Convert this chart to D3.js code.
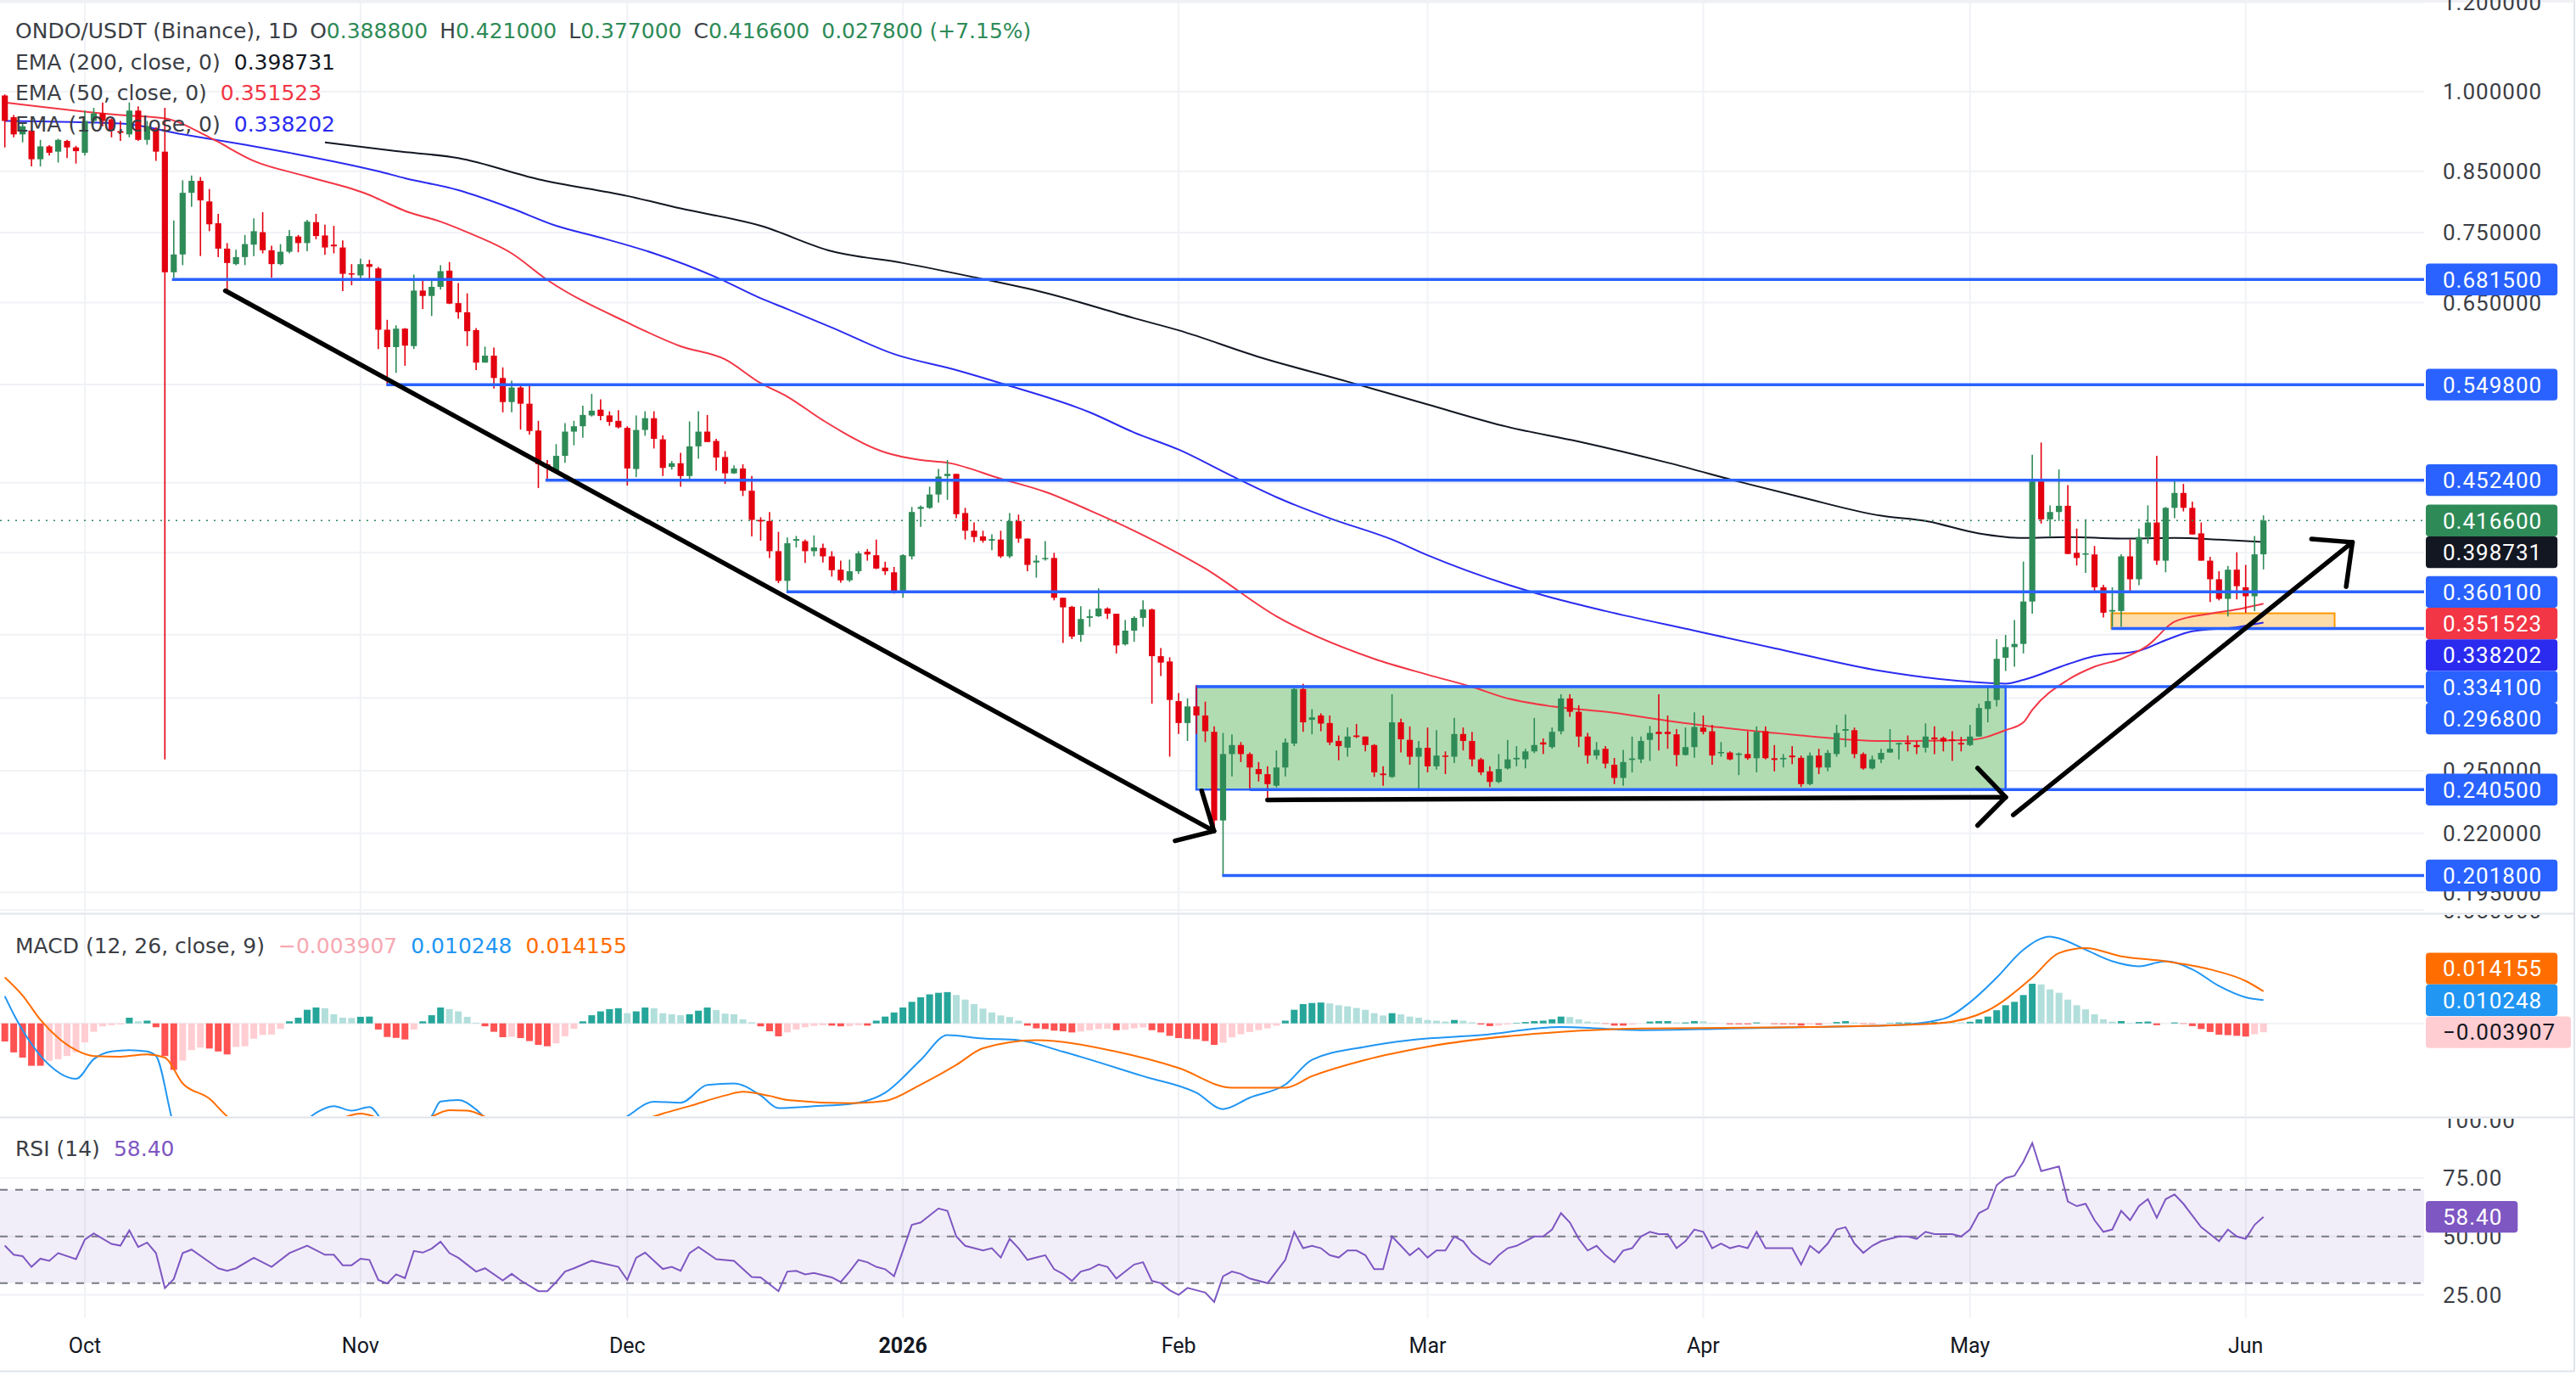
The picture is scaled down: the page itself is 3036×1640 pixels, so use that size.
<!DOCTYPE html>
<html>
<head>
<meta charset="utf-8">
<script src="https://cdn.jsdelivr.net/npm/d3@7"></script>
<style>
body { margin: 0; background: #fff; }
svg text { font-family: Roboto, "Noto Sans", sans-serif; }
svg text.legend { font-family: "DejaVu Sans", Verdana, sans-serif; }
</style>
</head>
<body>
<svg id="chart" width="3036" height="1640"></svg>
<script>
// daily candles, first one is 2025-09-22
const startDate = "2025-09-22";
const opens = [0.9922,0.9492,0.9165,0.9236,0.8711,0.8943,0.8847,0.9043,0.8924,0.8827,0.942,0.9567,0.945,0.9226,0.9165,0.9621,0.9063,0.9267,0.8847,0.6916,0.7172,0.8134,0.8335,0.7992,0.7644,0.7258,0.7032,0.7134,0.7317,0.7505,0.7234,0.7032,0.7212,0.7439,0.7341,0.7661,0.7456,0.7317,0.7275,0.6901,0.6871,0.7032,0.697,0.615,0.5936,0.6164,0.5948,0.6662,0.6589,0.6713,0.6939,0.6494,0.6374,0.6146,0.5751,0.5833,0.5573,0.5306,0.5466,0.5288,0.5006,0.4673,0.4612,0.4754,0.4995,0.505,0.5163,0.5224,0.5163,0.5106,0.5033,0.4628,0.5012,0.5134,0.4917,0.4648,0.4683,0.4562,0.4847,0.4995,0.4901,0.4743,0.4587,0.4633,0.4427,0.4171,0.4162,0.3913,0.3683,0.3998,0.3994,0.3913,0.3939,0.3872,0.3768,0.3687,0.3756,0.3909,0.3881,0.3784,0.3748,0.3596,0.3872,0.4266,0.4275,0.4393,0.4562,0.4582,0.423,0.408,0.4033,0.3998,0.4007,0.3872,0.4162,0.4015,0.3824,0.385,0.3859,0.3558,0.3493,0.3298,0.3415,0.3426,0.3481,0.3444,0.3235,0.3327,0.3415,0.3474,0.3158,0.3124,0.2881,0.2755,0.285,0.2798,0.2706,0.2258,0.2586,0.2634,0.2586,0.2508,0.2482,0.2424,0.2516,0.2642,0.2953,0.2773,0.2798,0.2755,0.2656,0.262,0.2686,0.268,0.2634,0.2485,0.2468,0.2759,0.2662,0.2572,0.2619,0.2522,0.2578,0.2572,0.2694,0.2656,0.2558,0.2496,0.2443,0.2511,0.2558,0.2558,0.26,0.2648,0.2623,0.2709,0.2897,0.2819,0.268,0.2578,0.2614,0.253,0.2463,0.2555,0.2558,0.2662,0.2706,0.2706,0.2692,0.2581,0.2623,0.273,0.2709,0.259,0.2594,0.2581,0.2586,0.2564,0.2709,0.2564,0.2558,0.2578,0.2566,0.2432,0.2578,0.2516,0.2586,0.2712,0.2715,0.2586,0.2511,0.2558,0.2594,0.2637,0.2648,0.2634,0.262,0.2675,0.2672,0.2664,0.2645,0.2634,0.268,0.2835,0.2888,0.3148,0.3217,0.3238,0.3531,0.4512,0.4176,0.4239,0.4293,0.39,0.3885,0.3887,0.3635,0.3459,0.3463,0.3872,0.3695,0.4028,0.4149,0.3838,0.4275,0.4407,0.4275,0.4058,0.3838,0.3695,0.355,0.3768,0.3635,0.3569,0.3888];
const highs = [0.9944,0.9535,0.937,0.9267,0.9063,0.8965,0.9083,0.9063,0.8954,0.9621,0.9675,0.9783,0.947,0.942,0.9783,0.9707,0.942,0.9297,0.9675,0.7688,0.8344,0.8427,0.84,0.8198,0.7792,0.7341,0.7242,0.7464,0.772,0.7818,0.73,0.7325,0.7538,0.7464,0.7697,0.7792,0.762,0.7604,0.7382,0.7032,0.711,0.7095,0.6993,0.6276,0.6205,0.6171,0.6883,0.6824,0.6809,0.7017,0.7063,0.6765,0.6625,0.6171,0.5942,0.593,0.5695,0.5543,0.5484,0.5496,0.5106,0.4714,0.4869,0.5083,0.5106,0.5266,0.5395,0.5336,0.5207,0.5218,0.505,0.5163,0.5207,0.5207,0.4958,0.4704,0.4783,0.51,0.5207,0.5168,0.4922,0.48,0.4663,0.4673,0.4562,0.4194,0.4239,0.4071,0.4024,0.4037,0.4007,0.4041,0.3973,0.3913,0.3838,0.3846,0.3913,0.393,0.4007,0.383,0.3789,0.3889,0.4283,0.4297,0.4464,0.4628,0.4714,0.4582,0.4275,0.4149,0.408,0.405,0.408,0.423,0.4216,0.4015,0.3881,0.3994,0.39,0.3558,0.35,0.3497,0.3474,0.3627,0.3489,0.3444,0.34,0.3426,0.3539,0.3481,0.3211,0.3151,0.2929,0.2897,0.2976,0.2878,0.2736,0.27,0.2692,0.265,0.2594,0.2544,0.2522,0.2605,0.267,0.2976,0.2985,0.2834,0.281,0.2798,0.2686,0.273,0.275,0.268,0.2639,0.2522,0.2922,0.2779,0.2736,0.2656,0.273,0.2715,0.26,0.2784,0.273,0.2706,0.2566,0.2522,0.2586,0.2662,0.2628,0.2614,0.2784,0.267,0.273,0.2922,0.2922,0.2857,0.27,0.265,0.2628,0.2566,0.2608,0.268,0.268,0.2739,0.2922,0.2798,0.2721,0.273,0.2816,0.2798,0.2745,0.265,0.26,0.2594,0.2709,0.2736,0.2736,0.2634,0.2586,0.2628,0.2578,0.2594,0.2614,0.2608,0.2745,0.2804,0.273,0.2594,0.2578,0.2614,0.2721,0.2648,0.2686,0.2656,0.2753,0.2736,0.268,0.2709,0.2678,0.2745,0.2866,0.2976,0.327,0.3298,0.34,0.3831,0.4764,0.4885,0.4297,0.4623,0.4479,0.4098,0.4176,0.3955,0.3654,0.3635,0.3889,0.4007,0.4098,0.4297,0.4754,0.4283,0.4537,0.4489,0.433,0.4149,0.3868,0.3756,0.3797,0.3904,0.3805,0.4037,0.421];
const lows = [0.8924,0.911,0.9017,0.8586,0.8586,0.8779,0.8653,0.8731,0.8634,0.8779,0.937,0.9318,0.911,0.9043,0.911,0.9043,0.8973,0.8682,0.2558,0.6838,0.7017,0.7905,0.7149,0.7521,0.7134,0.6662,0.7017,0.7017,0.7149,0.7188,0.6838,0.7017,0.7188,0.7204,0.7219,0.7398,0.7165,0.7188,0.6654,0.6735,0.6809,0.6809,0.5912,0.5502,0.5632,0.5714,0.5912,0.6416,0.6325,0.6676,0.648,0.6289,0.5948,0.5664,0.5751,0.5454,0.5196,0.5196,0.5016,0.4964,0.4451,0.452,0.4603,0.4688,0.4858,0.4932,0.5151,0.5112,0.5055,0.5028,0.4474,0.4552,0.4953,0.4826,0.4562,0.4622,0.4464,0.4537,0.4725,0.489,0.4612,0.4489,0.4582,0.4379,0.4033,0.3998,0.3859,0.3666,0.3604,0.3943,0.382,0.3872,0.3824,0.3715,0.367,0.3675,0.3736,0.3838,0.3772,0.3728,0.3588,0.3558,0.3847,0.4112,0.4266,0.4321,0.4346,0.4185,0.4007,0.3985,0.3981,0.3921,0.3859,0.3859,0.3981,0.3756,0.3707,0.3838,0.3539,0.3245,0.327,0.3252,0.3353,0.3422,0.3407,0.3176,0.3228,0.3252,0.3353,0.2866,0.3032,0.2572,0.2694,0.2656,0.2694,0.265,0.2218,0.2018,0.2471,0.2544,0.241,0.2445,0.2364,0.2416,0.2471,0.2628,0.2706,0.2692,0.2709,0.2634,0.2553,0.2572,0.2672,0.26,0.2468,0.2424,0.2463,0.2594,0.253,0.241,0.2491,0.2505,0.2482,0.2539,0.2605,0.2522,0.2477,0.2418,0.2437,0.2505,0.2522,0.2511,0.2591,0.2586,0.2614,0.2692,0.279,0.2623,0.2536,0.2558,0.2511,0.2432,0.2424,0.2491,0.2539,0.255,0.2605,0.2614,0.2522,0.2578,0.2566,0.2692,0.253,0.2572,0.2553,0.2477,0.2555,0.2491,0.2558,0.2496,0.2516,0.2533,0.2418,0.2426,0.2482,0.2496,0.2572,0.2623,0.2564,0.2505,0.2505,0.2539,0.2592,0.2558,0.26,0.2586,0.2594,0.2586,0.26,0.255,0.26,0.2628,0.268,0.2759,0.285,0.3064,0.3091,0.3176,0.3444,0.414,0.4028,0.4162,0.3891,0.38,0.3743,0.3604,0.3418,0.3353,0.3353,0.3604,0.3651,0.3973,0.3805,0.3748,0.4185,0.4244,0.4049,0.3838,0.3527,0.3539,0.3425,0.3546,0.3451,0.3463,0.377];
const closes = [0.942,0.9165,0.9318,0.8711,0.8943,0.8827,0.9063,0.8924,0.8856,0.942,0.9567,0.942,0.9236,0.9195,0.9621,0.9063,0.9318,0.8847,0.6916,0.7172,0.8134,0.8335,0.8009,0.7628,0.7258,0.7048,0.7134,0.7325,0.7521,0.7234,0.7032,0.7212,0.7447,0.7341,0.7669,0.7447,0.7275,0.7292,0.6894,0.6886,0.7032,0.6993,0.615,0.5936,0.6164,0.5954,0.6662,0.6589,0.6713,0.6931,0.6487,0.6374,0.6132,0.5751,0.5833,0.5573,0.5306,0.5466,0.5288,0.5001,0.4673,0.4638,0.4754,0.4995,0.505,0.5168,0.5213,0.5157,0.5095,0.5039,0.4633,0.5012,0.5134,0.4922,0.4638,0.4683,0.4562,0.4847,0.4995,0.489,0.4738,0.4587,0.4633,0.4427,0.4171,0.4158,0.3913,0.3683,0.3977,0.4011,0.3913,0.3943,0.3872,0.3764,0.3687,0.3756,0.3896,0.3887,0.3777,0.3756,0.3596,0.3881,0.4239,0.4283,0.4393,0.4557,0.4582,0.422,0.408,0.4028,0.3998,0.4011,0.3872,0.4162,0.4015,0.3805,0.3838,0.3859,0.3558,0.3489,0.3287,0.3407,0.3426,0.3481,0.3444,0.3228,0.3327,0.3415,0.3474,0.3158,0.3117,0.2888,0.2755,0.285,0.2798,0.2709,0.2258,0.2586,0.2634,0.2586,0.2516,0.2482,0.2432,0.2516,0.2648,0.2953,0.2759,0.2787,0.2752,0.2648,0.2628,0.268,0.2678,0.2634,0.2491,0.2477,0.2759,0.2665,0.2572,0.2619,0.2522,0.2578,0.2572,0.2694,0.2656,0.2558,0.2491,0.2443,0.2508,0.2558,0.2566,0.26,0.2634,0.2637,0.2706,0.2897,0.2819,0.268,0.2578,0.2608,0.2536,0.2463,0.2544,0.2563,0.2656,0.27,0.2694,0.2694,0.2581,0.2623,0.2733,0.2706,0.2578,0.2597,0.2558,0.2589,0.2564,0.2706,0.2564,0.2555,0.2566,0.2569,0.2432,0.2578,0.2516,0.2592,0.27,0.2721,0.2586,0.2511,0.2558,0.2592,0.2614,0.2645,0.2639,0.2623,0.268,0.2665,0.2653,0.2656,0.2637,0.268,0.2841,0.2881,0.3141,0.3217,0.3238,0.3531,0.4512,0.4176,0.4239,0.4293,0.3891,0.3859,0.3896,0.3635,0.3451,0.347,0.3872,0.3695,0.4028,0.4149,0.3838,0.4275,0.4407,0.4275,0.4049,0.3838,0.3695,0.355,0.3768,0.3643,0.3569,0.3888,0.4166];

// moving averages read at sample days (day index from startDate)
const ema50Days = [0,13,18,23,28,34,41,43,45,49,52,57,61,70,76,81,85,88,92,99,103,106,112,117,122,127,135,143,154,160,165,169,174,180,187,193,199,202,211,221,225,227,228,232,235,238,241,244,248,251,254];
const ema50Vals = [0.9783,0.9535,0.947,0.911,0.8682,0.8409,0.8098,0.7966,0.7839,0.7669,0.7505,0.7188,0.6809,0.6242,0.5946,0.5789,0.5514,0.5365,0.5112,0.4788,0.4714,0.4688,0.4537,0.4417,0.4253,0.408,0.3776,0.3426,0.3141,0.3041,0.2966,0.2897,0.285,0.2819,0.2768,0.273,0.27,0.2686,0.2656,0.2662,0.2715,0.2759,0.283,0.3009,0.3091,0.3141,0.3228,0.3389,0.3444,0.3474,0.351523];
const ema100Days = [0,13,20,27,32,42,45,51,57,62,67,73,80,85,88,93,100,107,112,122,127,132,138,143,149,156,160,169,174,180,190,199,211,222,225,227,232,235,240,243,246,251,254];
const ema100Vals = [0.942,0.937,0.9165,0.8973,0.8827,0.85,0.8381,0.8178,0.7879,0.7604,0.7423,0.7188,0.6846,0.6558,0.6416,0.6178,0.5852,0.5664,0.5514,0.5196,0.4986,0.4815,0.4562,0.4369,0.4185,0.4007,0.3881,0.3655,0.3558,0.3463,0.3327,0.321,0.3064,0.2993,0.2986,0.3009,0.3107,0.3158,0.3193,0.3263,0.3323,0.335,0.338202];
const ema200Days = [36,44,51,60,70,76,85,93,101,109,117,127,132,141,151,160,169,177,187,196,202,211,216,222,227,232,238,244,249,254];
const ema200Vals = [0.9017,0.8856,0.8731,0.8362,0.8082,0.7879,0.7604,0.7219,0.7048,0.6846,0.6632,0.6297,0.6143,0.5819,0.5532,0.528,0.5044,0.4895,0.4688,0.4489,0.4369,0.4207,0.4162,0.4058,0.402,0.4028,0.4015,0.402,0.4007,0.398731];

// MACD (12, 26, 9): lines read at sample days, histogram read per day
const macdDays = [0,1,3,5,8,10,12,14,16,17,19,22,26,30,33,35,37,39,41,43,45,48,49,51,53,55,60,66,70,73,76,79,82,85,87,91,95,99,103,106,110,114,119,128,134,137,140,144,147,153,158,166,175,184,194,203,212,218,221,224,227,230,231,234,237,240,243,246,249,252,254];
const macdVals = [0.012,0.004,-0.0091,-0.0184,-0.0245,-0.0158,-0.0124,-0.0118,-0.0124,-0.0144,-0.045,-0.065,-0.062,-0.055,-0.046,-0.0395,-0.0365,-0.0385,-0.0369,-0.046,-0.05,-0.041,-0.0345,-0.0338,-0.038,-0.046,-0.055,-0.052,-0.041,-0.0346,-0.035,-0.0272,-0.0265,-0.0318,-0.0374,-0.0365,-0.0356,-0.0306,-0.0161,-0.0052,-0.0067,-0.0074,-0.0125,-0.0233,-0.0306,-0.0378,-0.0328,-0.027,-0.0161,-0.0103,-0.0074,-0.0052,-0.0016,-0.003,-0.0023,-0.0016,-0.0009,0.002,0.0093,0.0202,0.0325,0.0383,0.0375,0.0325,0.0274,0.0252,0.0274,0.0238,0.0165,0.0115,0.010248];
const signalDays = [0,2,4,6,8,10,13,16,18,20,23,25,28,32,36,40,41,44,47,50,52,55,60,66,70,74,77,81,83,86,88,95,99,103,107,110,116,125,132,138,144,147,153,160,175,184,203,217,223,228,231,234,238,243,248,252,254];
const signalVals = [0.0203,0.0123,0.0016,-0.0064,-0.0118,-0.0144,-0.0147,-0.0137,-0.0151,-0.0265,-0.0332,-0.041,-0.048,-0.05,-0.045,-0.0398,-0.0405,-0.045,-0.043,-0.0383,-0.0385,-0.043,-0.05,-0.05,-0.045,-0.0398,-0.0365,-0.0318,-0.0302,-0.032,-0.0338,-0.0352,-0.0342,-0.027,-0.0183,-0.011,-0.0074,-0.0125,-0.0197,-0.0284,-0.0284,-0.0233,-0.0161,-0.0103,-0.0038,-0.0023,-0.0016,-0.0001,0.0057,0.0202,0.031,0.0332,0.0296,0.0274,0.0238,0.0187,0.014155];
const histVals = [-0.008,-0.0128,-0.0151,-0.0187,-0.0187,-0.0165,-0.0158,-0.0144,-0.0127,-0.0084,
  -0.0037,-0.0013,-0.0008,-0.0005,0.0025,0.0009,0.0012,-0.0017,-0.0144,-0.0205,
  -0.0164,-0.0118,-0.0107,-0.0111,-0.0124,-0.0137,-0.0104,-0.0101,-0.0068,-0.0051,
  -0.0049,-0.0024,0.0009,0.0025,0.006,0.007,0.0067,0.004,0.0025,0.0024,
  0.0029,0.003,-0.0027,-0.006,-0.0064,-0.0071,-0.0027,0.0009,0.0036,0.007,
  0.0063,0.0053,0.0029,0.0003,-0.0013,-0.0037,-0.0061,-0.0059,-0.0065,-0.0078,
  -0.0095,-0.0101,-0.0088,-0.0057,-0.0024,0.0009,0.0036,0.0053,0.0063,0.0067,
  0.0045,0.0053,0.007,0.0067,0.0045,0.004,0.0036,0.004,0.0056,0.007,
  0.0059,0.0043,0.004,0.0018,0.0005,-0.0013,-0.0035,-0.0057,-0.004,-0.0027,
  -0.0017,-0.0011,-0.0008,-0.001,-0.0013,-0.0012,-0.0008,-0.001,0.0012,0.003,
  0.0048,0.007,0.0095,0.0115,0.0128,0.0135,0.0138,0.0125,0.0105,0.0085,
  0.0065,0.0048,0.0035,0.0028,0.0012,-0.001,-0.0022,-0.0025,-0.0032,-0.0035,
  -0.004,-0.0036,-0.003,-0.0025,-0.0024,-0.003,-0.0028,-0.0022,-0.0018,-0.003,
  -0.004,-0.0055,-0.0065,-0.0068,-0.007,-0.0078,-0.0095,-0.0085,-0.0062,-0.0048,
  -0.0038,-0.003,-0.0022,-0.001,0.0012,0.006,0.0085,0.009,0.0092,0.0088,
  0.008,0.0075,0.0068,0.006,0.0045,0.0035,0.0045,0.004,0.003,0.0025,
  0.0015,0.0012,0.0008,0.0015,0.0012,0.0005,-0.0005,-0.0012,-0.001,-0.0005,
  0.0002,0.0006,0.001,0.0012,0.0018,0.003,0.0028,0.0018,0.0008,0.0004,
  -0.0002,-0.001,-0.001,-0.0006,0,0.0008,0.001,0.001,0.0004,0.0004,
  0.001,0.0009,0.0002,0,-0.0004,-0.0004,-0.0004,0.0004,0,-0.0003,
  -0.0004,-0.0004,-0.001,-0.0005,-0.0006,-0.0002,0.0006,0.001,0.0004,-0.0002,
  -0.0002,0,0.0002,0.0004,0.0004,0.0003,0.0006,0.0006,0.0006,0.0005,
  0.0004,0.0007,0.0018,0.003,0.0058,0.008,0.0095,0.0125,0.0175,0.0172,
  0.015,0.0135,0.0105,0.008,0.0062,0.004,0.0018,0.0008,0.001,0.0002,
  0.0006,0.0008,-0.0008,0,0.0004,-0.0002,-0.0012,-0.0025,-0.0038,-0.005,
  -0.0052,-0.0055,-0.0058,-0.0048,-0.003907];

// RSI (14): read per day where legible
const rsiEarlyDays = [0,1,2,3,4,5,6,8,9,10,12,13,14,15,16,17,18,19,20,21,24,25,26,28,30,32,34,36,37,38,39,40,41,42,43,44,45,46,47,48,49,50,51,53,54,56,57,58,60,61,62,63,64,66,69,70,71,72,74,75,76,77,78,80,82,84,85,87,88,89,90,91,93,94];
const rsiEarlyVals = [46.1,42.2,41.6,37,40.5,39.6,42.9,40.3,48.7,51.3,46.8,46.1,52.6,45.5,47.4,42.9,27.9,31.8,42.9,44.4,36.4,35.3,36.4,40.9,37,42.9,46.1,42.2,42.2,37.7,37.7,40.5,40,31.4,29.9,33.8,32.2,43.8,43.1,44.8,47.8,42.9,40.9,35,36.4,31.2,34,31.2,26.6,26.6,30.5,35,36.4,39.6,37,31.4,40.9,43.1,36.1,37,35.3,42.9,45.5,40.3,39.6,32.7,32.5,26.6,35,35.3,33.8,34.4,32.5,30.5];
const rsiLateVals = [35,40,39,37,36,33,44,55,56,59, 62,61,50,46,45,44,45,41,49,45, 40,41,42,36,34,31,35,36,38,37,
  32,35,38,39,31,30,27,25,28,27, 26,22,33,35,34,32,31,30,35,40, 52,45,46,45,42,41,44,44,42,36,
  36,50,46,42,45,41,44,44,50,48, 43,40,38,42,45,46,48,50,50,53, 60,56,49,44,46,42,39,44,45,50,
  52,51,51,45,48,53,52,45,47,45, 46,45,52,45,45,45,45,38,46,43, 47,53,54,47,43,46,48,49,50,50,
  49,52,51,51,51,50,53,60,62,72, 75,76,82,90,78,79,80,65,63,64, 57,52,53,61,57,63,66,58,66,68,
  64,59,54,51,48,53,50,49,55,58.4];

// drawn levels and shapes (day index, price)
const levelPrices = [0.6815, 0.5498, 0.4524, 0.3601, 0.3341, 0.2968, 0.2405, 0.2018];
const levelStart = [18.8, 42.9, 60.8, 87.9, 236.9, 134, 140, 136.9];
const rangeBox = {from: 134, to: 225, lo: 0.2405, hi: 0.2968};
const supportBox = {from: 236.9, to: 262, lo: 0.3341, hi: 0.3447};
const arrowFrom = [[24.8,0.666],[135.97,0.221],[135.97,0.221],[142,0.2355],[225,0.2368],[225,0.2368],[225.86,0.2284],[264,0.3985],[264,0.3985]];
const arrowTo = [[135.97,0.221],[134.6,0.2399],[131.6,0.2166],[225,0.2368],[221.85,0.2513],[221.85,0.2235],[264,0.3985],[259.4,0.4012],[263.3,0.364]];

const priceTicks = [1.2, 1.0, 0.85, 0.75, 0.65, 0.55, 0.45, 0.39, 0.33, 0.29, 0.25, 0.22, 0.195];
const macdTicks = [0.05, 0];
const rsiTicks = [100, 75, 50, 25];
const monthTicks = ["2025-10-01","2025-11-01","2025-12-01","2026-01-01","2026-02-01","2026-03-01","2026-04-01","2026-05-01","2026-06-01"];
const monthLabels = ["Oct","Nov","Dec","2026","Feb","Mar","Apr","May","Jun"];

const up = "#2e8b57", down = "#e3000f", levelBlue = "#2962ff";
const plotW = 2857;
const pane = {price: [0, 1075], macd: [1078, 1315], rsi: [1318, 1553]};

const svg = d3.select("#chart");
const t0 = new Date(startDate + "T00:00:00Z").getTime();
const x = d3.scaleUtc()
  .domain([new Date("2025-10-01T00:00:00Z"), new Date("2026-06-01T00:00:00Z")])
  .range([100, 2646.7]);
const xd = i => x(new Date(t0 + i * 864e5));
const y = d3.scaleLog().domain([1, 0.25]).range([108, 907.9]);
const ym = d3.scaleLinear().domain([0, 0.05]).range([1205.7, 1072.2]);
const yr = d3.scaleLinear().domain([50, 75]).range([1456.8, 1388]);

// clip each pane
const defs = svg.append("defs");
Object.entries(pane).forEach(([k, p]) => {
  defs.append("clipPath").attr("id", "clip-" + k)
    .append("rect").attr("x", 0).attr("y", p[0]).attr("width", plotW).attr("height", p[1] - p[0]);
  defs.append("clipPath").attr("id", "clipaxis-" + k)
    .append("rect").attr("x", plotW).attr("y", p[0]).attr("width", 3036 - plotW).attr("height", p[1] - p[0]);
});

// grid
const grid = svg.append("g");
Object.values(pane).forEach(p => {
  grid.selectAll(null).data(monthTicks).enter().append("line")
    .attr("x1", d => x(new Date(d + "T00:00:00Z"))).attr("x2", d => x(new Date(d + "T00:00:00Z")))
    .attr("y1", p[0]).attr("y2", p[1]).attr("stroke", "#f0f2f6").attr("stroke-width", 2);
});
grid.append("g").attr("clip-path", "url(#clip-price)").selectAll("line").data(priceTicks).enter().append("line")
  .attr("x1", 0).attr("x2", plotW).attr("y1", d => y(d)).attr("y2", d => y(d))
  .attr("stroke", "#f0f2f6").attr("stroke-width", 2);
grid.selectAll(null).data(macdTicks).enter().append("line")
  .attr("x1", 0).attr("x2", plotW).attr("y1", d => ym(d)).attr("y2", d => ym(d))
  .attr("stroke", "#f0f2f6").attr("stroke-width", 2);
grid.selectAll(null).data([75, 50, 25]).enter().append("line")
  .attr("x1", 0).attr("x2", plotW).attr("y1", d => yr(d)).attr("y2", d => yr(d))
  .attr("stroke", "#f0f2f6").attr("stroke-width", 2);

// pane separators and frame
svg.append("g").selectAll("line").data([1076.5, 1316.5, 1615.5]).enter().append("line")
  .attr("x1", 0).attr("x2", 3034).attr("y1", d => d).attr("y2", d => d)
  .attr("stroke", "#e0e3eb").attr("stroke-width", 2);
svg.append("line").attr("x1", 3034).attr("x2", 3034).attr("y1", 0).attr("y2", 1616)
  .attr("stroke", "#e0e3eb").attr("stroke-width", 2);
svg.append("rect").attr("x", 0).attr("y", 0).attr("width", 3034).attr("height", 3).attr("fill", "#eef0f3");

// price pane
const pg = svg.append("g").attr("clip-path", "url(#clip-price)");

pg.append("rect")
  .attr("x", xd(rangeBox.from)).attr("y", y(rangeBox.hi))
  .attr("width", xd(rangeBox.to) - xd(rangeBox.from)).attr("height", y(rangeBox.lo) - y(rangeBox.hi))
  .attr("fill", "#b1dcb2").attr("stroke", levelBlue).attr("stroke-width", 2.5);
pg.append("rect")
  .attr("x", xd(supportBox.from)).attr("y", y(supportBox.hi))
  .attr("width", xd(supportBox.to) - xd(supportBox.from)).attr("height", y(supportBox.lo) - y(supportBox.hi))
  .attr("fill", "#fddcaa").attr("stroke", "#ff9800").attr("stroke-width", 2);

const emaLine = d3.line().x(d => xd(d[0])).y(d => y(d[1])).curve(d3.curveMonotoneX);
[[ema200Days, ema200Vals, "#131722"], [ema100Days, ema100Vals, "#2b2bf0"], [ema50Days, ema50Vals, "#f23645"]]
  .forEach(([days, vals, c]) => {
    pg.append("path").datum(days.map((d, i) => [d, vals[i]]))
      .attr("d", emaLine).attr("fill", "none").attr("stroke", c).attr("stroke-width", 2);
  });

const candles = opens.map((o, i) => ({i, o, h: highs[i], l: lows[i], c: closes[i]}));
const cg = pg.append("g").selectAll("g").data(candles).enter().append("g");
cg.append("line")
  .attr("x1", d => xd(d.i)).attr("x2", d => xd(d.i))
  .attr("y1", d => y(d.h)).attr("y2", d => y(d.l))
  .attr("stroke", d => d.c >= d.o ? up : down).attr("stroke-width", 1.6);
cg.append("rect")
  .attr("x", d => xd(d.i) - 3.6).attr("width", 7.2)
  .attr("y", d => y(Math.max(d.o, d.c)))
  .attr("height", d => Math.max(1.5, Math.abs(y(d.o) - y(d.c))))
  .attr("fill", d => d.c >= d.o ? up : down);

pg.selectAll(null).data(levelPrices).enter().append("line")
  .attr("x1", (d, i) => xd(levelStart[i])).attr("x2", plotW)
  .attr("y1", d => y(d)).attr("y2", d => y(d))
  .attr("stroke", levelBlue).attr("stroke-width", 3.5);

pg.append("line").attr("x1", 0).attr("x2", plotW)
  .attr("y1", y(closes[closes.length - 1])).attr("y2", y(closes[closes.length - 1]))
  .attr("stroke", up).attr("stroke-width", 1.5).attr("stroke-dasharray", "2 7");

pg.selectAll(null).data(arrowFrom).enter().append("line")
  .attr("x1", d => xd(d[0])).attr("y1", d => y(d[1]))
  .attr("x2", (d, i) => xd(arrowTo[i][0])).attr("y2", (d, i) => y(arrowTo[i][1]))
  .attr("stroke", "#000").attr("stroke-width", 5.5).attr("stroke-linecap", "round");

// MACD pane
const mg = svg.append("g").attr("clip-path", "url(#clip-macd)");
mg.selectAll("rect").data(histVals).enter().append("rect")
  .attr("x", (d, i) => xd(i) - 4).attr("width", 8)
  .attr("y", d => ym(Math.max(0, d))).attr("height", d => Math.abs(ym(d) - ym(0)))
  .attr("fill", (d, i) => {
    const prev = i > 0 ? histVals[i - 1] : d;
    if (d >= 0) return d >= prev ? "#26a69a" : "#b2dfdb";
    return d <= prev ? "#ff5252" : "#ffcdd2";
  });
const mLine = d3.line().x(d => xd(d[0])).y(d => ym(d[1])).curve(d3.curveMonotoneX);
mg.append("path").datum(macdDays.map((d, i) => [d, macdVals[i]]))
  .attr("d", mLine).attr("fill", "none").attr("stroke", "#2196f3").attr("stroke-width", 2);
mg.append("path").datum(signalDays.map((d, i) => [d, signalVals[i]]))
  .attr("d", mLine).attr("fill", "none").attr("stroke", "#ff6d00").attr("stroke-width", 2);

// RSI pane
const rsiPts = rsiEarlyDays.map((d, i) => [d, rsiEarlyVals[i]])
  .concat(rsiLateVals.map((v, i) => [95 + i, v]));
const rg = svg.append("g").attr("clip-path", "url(#clip-rsi)");
rg.append("rect").attr("x", 0).attr("width", plotW).attr("y", yr(70)).attr("height", yr(30) - yr(70))
  .attr("fill", "#7e57c2").attr("fill-opacity", 0.1);
rg.selectAll(null).data([70, 50, 30]).enter().append("line")
  .attr("x1", 0).attr("x2", plotW).attr("y1", d => yr(d)).attr("y2", d => yr(d))
  .attr("stroke", "#787b86").attr("stroke-width", 2).attr("stroke-dasharray", "9 9");
rg.append("path").datum(rsiPts)
  .attr("d", d3.line().x(d => xd(d[0])).y(d => yr(d[1]))).attr("fill", "none")
  .attr("stroke", "#7e57c2").attr("stroke-width", 2);

// value boxes on the price scale, pushed apart like the platform does
const axFont = 26, boxH = 37.3;
function placeBoxes(items, center, h) {
  const s = items.slice().sort((a, b) => a.y - b.y);
  const k = d3.minIndex(s, d => Math.abs(d.y - center));
  s.forEach(d => d.py = d.y);
  for (let j = k + 1; j < s.length; j++) s[j].py = Math.max(s[j].y, s[j - 1].py + h);
  for (let j = k - 1; j >= 0; j--) s[j].py = Math.min(s[j].y, s[j + 1].py - h);
  return s;
}
const lastClose = closes[closes.length - 1];
const priceBoxes = placeBoxes(levelPrices.map(p => ({y: y(p), text: d3.format(".6f")(p), bg: levelBlue, fg: "#fff"}))
  .concat([
    {y: y(lastClose), text: d3.format(".6f")(lastClose), bg: up, fg: "#fff"},
    {y: y(ema200Vals[ema200Vals.length - 1]), text: d3.format(".6f")(ema200Vals[ema200Vals.length - 1]), bg: "#131722", fg: "#fff"},
    {y: y(ema50Vals[ema50Vals.length - 1]), text: d3.format(".6f")(ema50Vals[ema50Vals.length - 1]), bg: "#f23645", fg: "#fff"},
    {y: y(ema100Vals[ema100Vals.length - 1]), text: d3.format(".6f")(ema100Vals[ema100Vals.length - 1]), bg: "#2b2bf0", fg: "#fff"}
  ]), 537, boxH);
const lastMacd = macdVals[macdVals.length - 1], lastSignal = signalVals[signalVals.length - 1];
const lastHist = histVals[histVals.length - 1];
const macdBoxes = placeBoxes([
  {y: ym(lastSignal), text: d3.format(".6f")(lastSignal), bg: "#ff6d00", fg: "#fff"},
  {y: ym(lastMacd), text: d3.format(".6f")(lastMacd), bg: "#2196f3", fg: "#fff"},
  {y: ym(lastHist), text: d3.format(".6f")(lastHist), bg: "#ffcdd2", fg: "#131722"}
], 1196.5, boxH);
const lastRsi = rsiLateVals[rsiLateVals.length - 1];
const rsiBoxes = [{py: yr(lastRsi), text: d3.format(".2f")(lastRsi), bg: "#7e57c2", fg: "#fff"}];

// axis labels; the platform hides a tick whose centre sits under a value box
function axisText(g, vals, sc, fmt, boxes) {
  const free = vals.filter(v => !boxes.some(b => Math.abs(b.py - sc(v)) < boxH / 2));
  g.selectAll(null).data(free).enter().append("text")
    .attr("x", 2879).attr("y", d => sc(d)).attr("dy", "0.36em")
    .attr("font-size", axFont).attr("letter-spacing", 1).attr("fill", "#3b3e45")
    .text(fmt);
}
axisText(svg.append("g").attr("clip-path", "url(#clipaxis-price)"), priceTicks, y, d3.format(".6f"), priceBoxes);
axisText(svg.append("g").attr("clip-path", "url(#clipaxis-macd)"), [0.05], ym, d3.format(".6f"), macdBoxes);
axisText(svg.append("g").attr("clip-path", "url(#clipaxis-rsi)"), rsiTicks, yr, d3.format(".2f"), rsiBoxes);

svg.append("g").selectAll("text").data(monthTicks).enter().append("text")
  .attr("x", d => x(new Date(d + "T00:00:00Z"))).attr("y", 1594)
  .attr("text-anchor", "middle").attr("font-size", 25).attr("fill", "#131722")
  .attr("font-weight", (d, i) => monthLabels[i] === "2026" ? 700 : 400)
  .text((d, i) => monthLabels[i]);

function drawBoxes(items) {
  const g = svg.append("g");
  items.forEach(d => {
    const t = g.append("text").attr("x", 2879).attr("y", d.py).attr("dy", "0.36em")
      .attr("font-size", axFont).attr("letter-spacing", 1).attr("fill", d.fg).text(d.text);
    const w = t.node().getComputedTextLength() + 38;
    g.insert("rect", () => t.node())
      .attr("x", 2859).attr("y", d.py - boxH / 2).attr("width", w).attr("height", boxH)
      .attr("rx", 4).attr("fill", d.bg);
  });
}
drawBoxes(priceBoxes);
drawBoxes(macdBoxes);
drawBoxes(rsiBoxes);

// legends
function legend(yPos, parts) {
  const t = svg.append("text").attr("class", "legend").attr("x", 18).attr("y", yPos).attr("font-size", 25);
  parts.forEach(([s, c, gap]) => t.append("tspan").attr("fill", c).attr("dx", gap || 0).text(s));
}
const lab = "#3b3e45";
const last = opens.length - 1;
const chg = closes[last] - closes[last - 1];
legend(45, [["ONDO/USDT (Binance), 1D", lab], ["O", lab, 14], [d3.format(".6f")(opens[last]), up],
  ["H", lab, 14], [d3.format(".6f")(highs[last]), up], ["L", lab, 14], [d3.format(".6f")(lows[last]), up],
  ["C", lab, 14], [d3.format(".6f")(closes[last]), up],
  [d3.format(".6f")(chg) + " (+" + d3.format(".2f")(chg / closes[last - 1] * 100) + "%)", up, 14]]);
legend(82, [["EMA (200, close, 0)", lab], [d3.format(".6f")(ema200Vals[ema200Vals.length - 1]), "#131722", 16]]);
legend(118, [["EMA (50, close, 0)", lab], [d3.format(".6f")(ema50Vals[ema50Vals.length - 1]), "#f23645", 16]]);
legend(155, [["EMA (100, close, 0)", lab], [d3.format(".6f")(ema100Vals[ema100Vals.length - 1]), "#2b2bf0", 16]]);
legend(1123, [["MACD (12, 26, close, 9)", lab], [d3.format(".6f")(lastHist), "#f7a8b2", 16],
  [d3.format(".6f")(lastMacd), "#2196f3", 16], [d3.format(".6f")(lastSignal), "#ff6d00", 16]]);
legend(1362, [["RSI (14)", lab], [d3.format(".2f")(lastRsi), "#7e57c2", 16]]);
</script>
</body>
</html>
